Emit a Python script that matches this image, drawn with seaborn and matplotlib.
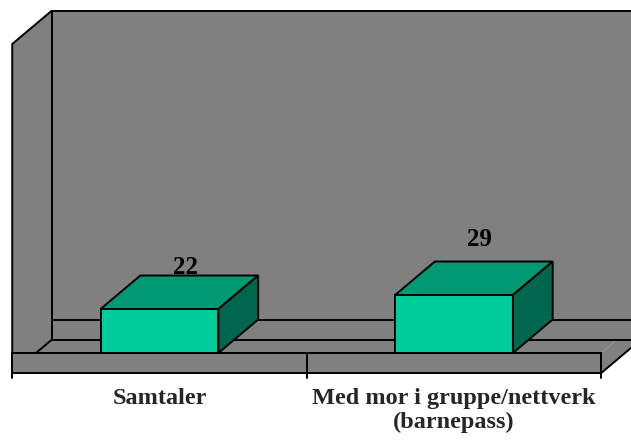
import numpy as np
import seaborn as sns
import matplotlib.pyplot as plt
from matplotlib.patches import Polygon

categories = ["Samtaler", "Med mor i gruppe/nettverk\n(barnepass)"]
values = [22, 29]

# colours of the excel-like 3d look
front_col = "#00CC99"
top_col = "#009973"
side_col = "#00664D"
wall_col = "#808080"

# depth offset of the fake 3d (data units)
dx = 0.135
dy = 16.75
ymax = 154.5
floor_h = 10

sns.set_style("white")
plt.rcParams['font.family'] = ['Liberation Serif', 'DejaVu Serif']

fig = plt.figure(figsize=(6.31, 4.46), dpi=100)
ax = fig.add_axes([0, 0, 1, 1])

sns.barplot(x=categories, y=values, color=front_col, saturation=1, width=0.4,
            edgecolor="black", linewidth=1.4, ax=ax)
bars = list(ax.patches)

# walls and floor
back_wall = Polygon([(-0.5 + dx, -floor_h + dy), (1.5 + dx, -floor_h + dy),
                     (1.5 + dx, ymax + dy), (-0.5 + dx, ymax + dy)],
                    closed=True, fc=wall_col, ec="black", lw=1.4, zorder=0.2)
left_wall = Polygon([(-0.5, -floor_h), (-0.5, ymax), (-0.5 + dx, ymax + dy),
                     (-0.5 + dx, -floor_h + dy)],
                    closed=True, fc=wall_col, ec="black", lw=1.4, zorder=0.3)
floor_top = Polygon([(-0.5, 0), (1.5, 0), (1.5 + dx, dy), (-0.5 + dx, dy)],
                    closed=True, fc=wall_col, ec="none", zorder=0.25)
floor_side = Polygon([(1.5, -floor_h), (1.5, 0), (1.5 + dx, dy), (1.5 + dx, dy - floor_h)],
                     closed=True, fc=wall_col, ec="none", zorder=0.3)
floor_front = Polygon([(-0.5, -floor_h), (1.5, -floor_h), (1.5, 0), (-0.5, 0)],
                      closed=True, fc=wall_col, ec="black", lw=1.4, zorder=0.4)
for p in [back_wall, left_wall, floor_top, floor_side, floor_front]:
    ax.add_patch(p)
ax.plot([-0.5 + dx, 1.5 + dx], [dy, dy], color="black", lw=1.4, zorder=0.35)
ax.plot([-0.5 + dx, 1.5 + dx], [dy - floor_h, dy - floor_h], color="black", lw=1.4, zorder=0.35)
ax.plot([1.5, 1.5 + dx], [-floor_h, dy - floor_h], color="black", lw=1.4, zorder=0.35)
for t in [-0.5, 0.5, 1.5]:
    ax.plot([t, t], [0, -12.5], color="black", lw=1.4, zorder=0.45)

# top and side faces of the boxes
for b in bars:
    x0, w, h = b.get_x(), b.get_width(), b.get_height()
    top = Polygon([(x0, h), (x0 + w, h), (x0 + w + dx, h + dy), (x0 + dx, h + dy)],
                  closed=True, fc=top_col, ec="black", lw=1.4, zorder=1)
    side = Polygon([(x0 + w, 0), (x0 + w, h), (x0 + w + dx, h + dy), (x0 + w + dx, dy)],
                   closed=True, fc=side_col, ec="black", lw=1.4, zorder=1)
    ax.add_patch(top)
    ax.add_patch(side)

# value labels
for i, v in enumerate(values):
    ax.text(i + dx * 0.65, v * 2 - 1.5, str(v), ha="center", va="center",
            fontsize=18, fontweight="bold", color="black", zorder=0.9)

# category labels
for i, c in enumerate(categories):
    ax.text(i, -17.5, c, ha="center", va="top", fontsize=17.5,
            fontweight="bold", linespacing=1.2)

ax.set_xlim(-0.5416, 1.601)
ax.set_ylim(-46.5, 176.5)
ax.axis("off")

plt.savefig("out.png", dpi=100, facecolor="white")
